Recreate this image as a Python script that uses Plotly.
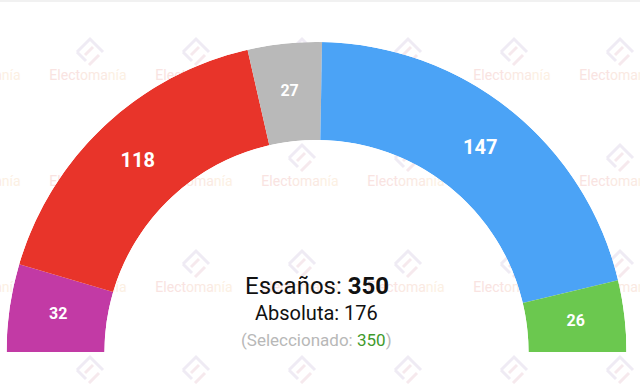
import plotly.graph_objects as go

# ---- data ----
parties_seats = [32, 118, 27, 147, 26]
party_colors = ["#c23aa5", "#e8342a", "#b9b9b9", "#4ba3f6", "#6bc84f"]
total_seats = 350
majority = 176
selected = 350
label_sizes = [16, 20, 16, 20, 16]

W, H = 640, 384

# angular positions (degrees, 180 = left, 0 = right)
k = 180.0 / total_seats
thetas, widths = [], []
cum = 0
for v in parties_seats:
    thetas.append(180 - (cum + v / 2) * k)
    widths.append(v * k)
    cum += v

fig = go.Figure()

# ---- background watermark (cartesian, drawn under the polar layer) ----
wm_cols = [-18 + 106 * i for i in range(7)]
wm_rows = [76, 182, 288]
wm_x, wm_y = [], []
for ry in wm_rows:
    for cx in wm_cols:
        wm_x.append(cx)
        wm_y.append(ry)
wm_text = ('<span style="color:#f9e3e1">Elect</span>'
           '<span style="color:#fae9e2">oma</span>'
           '<span style="color:#fcf0e3">nía</span>')
fig.add_trace(go.Scatter(
    x=wm_x, y=wm_y, mode="text", text=[wm_text] * len(wm_x),
    textfont=dict(family="Roboto", size=14, color="#fae8e2"),
    textposition="middle center", hoverinfo="skip", showlegend=False,
    xaxis="x", yaxis="y"))

shapes = []
logo_rows = [52, 158, 264, 370]
for ly in logo_rows:
    for cx in wm_cols:
        x0 = cx + 2
        s = 13
        shapes.append(dict(
            type="path", xref="x", yref="y", layer="below",
            path=f"M {x0-s},{ly} L {x0},{ly-s} L {x0+s},{ly} M {x0-s},{ly} L {x0-4},{ly+9}",
            line=dict(color="#efebf4", width=3)))
        shapes.append(dict(
            type="path", xref="x", yref="y", layer="below",
            path=f"M {x0-5},{ly+3} L {x0+3},{ly-5} M {x0-1},{ly+13} L {x0+9},{ly+3}",
            line=dict(color="#f6e9ed", width=3)))
shapes.append(dict(type="rect", xref="paper", yref="paper", x0=0, x1=1,
                   y0=1 - 2 / H, y1=1, fillcolor="#f1f1f1", line=dict(width=0),
                   layer="below"))

# ---- parliament arc ----
fig.add_trace(go.Barpolar(
    r=[1] * len(parties_seats), theta=thetas, width=widths, base=0,
    marker=dict(color=party_colors, line=dict(width=0)),
    hoverinfo="skip", showlegend=False))

fig.add_trace(go.Scatterpolar(
    r=[0.5] * len(parties_seats), theta=thetas, mode="text",
    text=[f"<b>{v}</b>" for v in parties_seats],
    textfont=dict(family="Roboto", size=label_sizes, color="white"),
    hoverinfo="skip", showlegend=False))

cx_paper = 316.5 / W
annotations = [
    dict(x=cx_paper, y=(H - 286) / H, xref="paper", yref="paper",
         text=f"Escaños: <b>{total_seats}</b>", showarrow=False,
         font=dict(family="Roboto", size=24, color="#111111"),
         xanchor="center", yanchor="middle"),
    dict(x=cx_paper, y=(H - 313) / H, xref="paper", yref="paper",
         text=f"Absoluta: {majority}", showarrow=False,
         font=dict(family="Roboto", size=20, color="#111111"),
         xanchor="center", yanchor="middle"),
    dict(x=cx_paper, y=(H - 340) / H, xref="paper", yref="paper",
         text=f'(Seleccionado: <span style="color:#3f9a2c">{selected}</span>)',
         showarrow=False,
         font=dict(family="Roboto", size=17, color="#b8b8b8"),
         xanchor="center", yanchor="middle"),
]

fig.update_layout(
    width=W, height=H, margin=dict(l=0, r=0, t=0, b=0),
    paper_bgcolor="white", plot_bgcolor="rgba(0,0,0,0)",
    showlegend=False,
    xaxis=dict(range=[0, W], domain=[0, 1], visible=False, fixedrange=True),
    yaxis=dict(range=[H, 0], domain=[0, 1], visible=False, fixedrange=True),
    polar=dict(
        domain=dict(x=[6 / W, 627 / W], y=[32 / H, 342 / H]),
        sector=[0, 180], hole=0.684, bgcolor="rgba(0,0,0,0)",
        radialaxis=dict(range=[0, 1], visible=False, showgrid=False),
        angularaxis=dict(visible=False, showgrid=False, direction="counterclockwise",
                         rotation=0),
    ),
    shapes=shapes, annotations=annotations,
)

fig.write_html("out.html")
